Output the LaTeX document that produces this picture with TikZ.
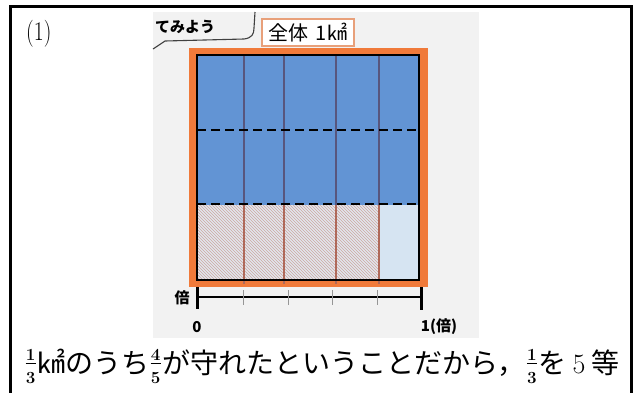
\documentclass[tikz,border=0pt]{standalone}
\usepackage{fontspec}
\newfontfamily\jp{Noto Sans CJK JP}
\usetikzlibrary{patterns}
\definecolor{photobg}{RGB}{242,242,242}
\definecolor{mapblue}{RGB}{98,148,212}
\definecolor{maporange}{RGB}{240,122,58}
\definecolor{lightband}{RGB}{214,228,242}
\definecolor{hatchbase}{RGB}{226,230,238}
\definecolor{hatchpink}{RGB}{205,168,160}
\definecolor{divblue}{RGB}{88,86,125}
\definecolor{divred}{RGB}{175,105,90}
\definecolor{boxorange}{RGB}{232,160,122}
\definecolor{smalltick}{RGB}{150,150,150}
\newcommand\jfrac[2]{\kern1.5pt\raisebox{-10pt}{\fontsize{17}{17}\selectfont\rmfamily\bfseries\vbox{\offinterlineskip\hbox to 10pt{\hss#1\hss}\kern3pt\hrule height 1.1pt\kern7.5pt\hbox to 10pt{\hss#2\hss}}}\kern1.5pt}
\tikzset{
  dashline/.style={black, line width=2.2pt, dash pattern=on 9pt off 5pt},
  divline/.style={line width=1.4pt},
  axislabel/.style={inner sep=0pt, font=\jp\bfseries\fontsize{15}{15}\selectfont},
  bubbleline/.style={draw=black!75, line width=1.1pt},
}
\begin{document}
\begin{tikzpicture}[x=1pt,y=-1pt]
\useasboundingbox (0,0) rectangle (637,392);
\fill[white] (0,0) rectangle (637,392);
% photo background
\fill[photobg] (153,12) rectangle (479,338);
% speech bubble fragment
\draw[bubbleline] (153,49) -- (165,41) -- (244,39) .. controls (252,38) and (254,34) .. (254,28) -- (255,12);
\node[axislabel] (bubbletext) at (185,27) {てみよう};
% whole-area box
\node[draw=boxorange, line width=1.2pt, fill=white, minimum width=92pt, minimum height=27pt, inner sep=0pt, font=\jp\fontsize{20}{20}\selectfont] (whole) at (308,32.5) {全体\hspace{7pt}1㎢};
% orange frame and map
\fill[maporange] (189,48) rectangle (428,287);
\fill[mapblue] (197,55) rectangle (419,205);
\fill[hatchbase] (197,205) rectangle (380,280);
\fill[pattern=north west lines, pattern color=hatchpink] (197,205) rectangle (380,280);
\fill[lightband] (380,205) rectangle (419,280);
\foreach \x in {244,284,336,379} {
  \draw[divline, divblue] (\x,55) -- (\x,205);
  \draw[divline, divred] (\x,205) -- (\x,284);
}
\draw[dashline] (197,130) -- (419,130);
\draw[dashline] (197,204) -- (419,204);
\draw[black, line width=1.8pt] (197,55) rectangle (419,280);
% axis
\draw[black, line width=2.4pt] (197,297) -- (421,297);
\draw[black, line width=3pt] (197,287) -- (197,309);
\draw[black, line width=3pt] (421,287) -- (421,310);
\foreach \x in {243,288,332,377} {
  \draw[smalltick, line width=0.8pt] (\x,290) -- (\x,305);
}
\node[axislabel] (bai) at (182,298) {倍};
\node[axislabel] (zero) at (197,327) {0};
\node[axislabel] (one) at (439,327) {1(倍)};
% item label
\node[anchor=base west, inner sep=0pt] (item) at (26,40) {\scalebox{0.8}[1]{\fontsize{27}{27}\selectfont (1)}};
% sentence
\node[anchor=base west, inner sep=0pt] (sentence) at (24,373) {\fontsize{28}{34}\selectfont\jfrac{1}{3}\jp ㎢のうち\jfrac{4}{5}が守れたということだから，\jfrac{1}{3}を {\rmfamily 5} 等};
% outer frame
\draw[black, line width=3pt] (10.5,400) -- (10.5,6.5) -- (631.5,6.5) -- (631.5,400);
\end{tikzpicture}
\end{document}
